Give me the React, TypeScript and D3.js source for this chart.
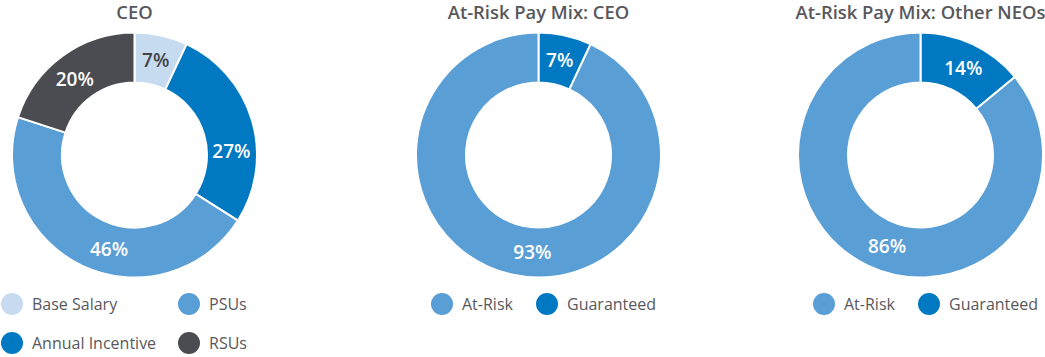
import React from "react";
import * as d3 from "d3";

const ceoCategories = ["Base Salary", "Annual Incentive", "PSUs", "RSUs"];
const ceoValues = [7, 27, 46, 20];

const riskCategories = ["Guaranteed", "At-Risk"];
const riskCeoValues = [7, 93];
const riskNeoValues = [14, 86];

const titles = ["CEO", "At-Risk Pay Mix: CEO", "At-Risk Pay Mix: Other NEOs"];

const colorMap: Record<string, string> = {
  "Base Salary": "#c7dbf0",
  "Annual Incentive": "#0079c2",
  "PSUs": "#5a9ed6",
  "RSUs": "#4b4c51",
  "At-Risk": "#5a9ed6",
  "Guaranteed": "#0079c2",
};
const labelColorMap: Record<string, string> = {
  "Base Salary": "#444449",
};

const W = 1045;
const H = 357;
const FONT = "'Open Sans', 'Noto Sans', sans-serif";
const OUTER = 122.5;
const INNER = 72.5;
const LABEL_R = 97;
const CY = 155;

type Chart = {
  title: string;
  cx: number;
  cats: string[];
  vals: number[];
  angleShift: number[]; // degrees, label nudges
  legend: { cat: string; x: number; y: number }[];
};

const charts: Chart[] = [
  {
    title: titles[0],
    cx: 134.5,
    cats: ceoCategories,
    vals: ceoValues,
    angleShift: [0, 14, -10, -2],
    legend: [
      { cat: "Base Salary", x: 12, y: 304 },
      { cat: "PSUs", x: 189, y: 304 },
      { cat: "Annual Incentive", x: 12, y: 343 },
      { cat: "RSUs", x: 189, y: 343 },
    ],
  },
  {
    title: titles[1],
    cx: 538.5,
    cats: riskCategories,
    vals: riskCeoValues,
    angleShift: [0, -9],
    legend: [
      { cat: "At-Risk", x: 442, y: 304 },
      { cat: "Guaranteed", x: 547, y: 304 },
    ],
  },
  {
    title: titles[2],
    cx: 920.5,
    cats: riskCategories,
    vals: riskNeoValues,
    angleShift: [1, -5],
    legend: [
      { cat: "At-Risk", x: 824, y: 304 },
      { cat: "Guaranteed", x: 929, y: 304 },
    ],
  },
];

function Donut({ c }: { c: Chart }) {
  const data = c.cats.map((cat, i) => ({ cat, v: c.vals[i] }));
  const pie = d3
    .pie<{ cat: string; v: number }>()
    .value((d) => d.v)
    .sort(null);
  const arcs = pie(data);
  const arc = d3
    .arc<d3.PieArcDatum<{ cat: string; v: number }>>()
    .innerRadius(INNER)
    .outerRadius(OUTER);
  return (
    <g>
      <text
        x={c.cx}
        y={11}
        textAnchor="middle"
        dominantBaseline="central"
        fontFamily={FONT}
        fontWeight={600}
        fontSize={18.4}
        fill="#58585c"
      >
        {c.title}
      </text>
      <g transform={`translate(${c.cx},${CY})`}>
        {arcs.map((a, i) => (
          <path
            key={i}
            d={arc(a) || ""}
            fill={colorMap[a.data.cat]}
            stroke="#fff"
            strokeWidth={2}
          />
        ))}
        {arcs.map((a, i) => {
          const mid = (a.startAngle + a.endAngle) / 2 + (c.angleShift[i] * Math.PI) / 180;
          const x = LABEL_R * Math.sin(mid);
          const y = -LABEL_R * Math.cos(mid);
          return (
            <text
              key={"l" + i}
              x={x}
              y={y}
              textAnchor="middle"
              dominantBaseline="central"
              fontFamily={FONT}
              fontWeight={600}
              fontSize={19}
              fill={labelColorMap[a.data.cat] || "#ffffff"}
            >
              {a.data.v + "%"}
            </text>
          );
        })}
      </g>
      {c.legend.map((l, i) => (
        <g key={"lg" + i}>
          <circle cx={l.x} cy={l.y} r={11} fill={colorMap[l.cat]} />
          <text
            x={l.x + 20}
            y={l.y}
            dominantBaseline="central"
            fontFamily={FONT}
            fontSize={16}
            fill="#58585c"
          >
            {l.cat}
          </text>
        </g>
      ))}
    </g>
  );
}

export default function App() {
  return (
    <svg
      width={W}
      height={H}
      viewBox={`0 0 ${W} ${H}`}
      style={{ position: "absolute", left: 0, top: 0, background: "#fff" }}
    >
      <rect width={W} height={H} fill="#fff" />
      {charts.map((c, i) => (
        <Donut key={i} c={c} />
      ))}
    </svg>
  );
}
